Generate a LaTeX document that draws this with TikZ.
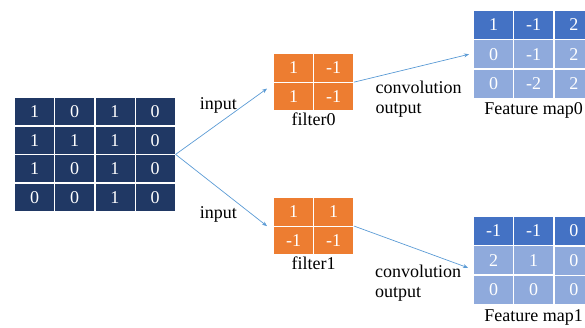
\documentclass[tikz,border=0pt]{standalone}
\usepackage{fontspec}
\setmainfont{Liberation Serif}
\usetikzlibrary{positioning,matrix,arrows.meta}
\definecolor{navy}{RGB}{32,56,100}
\definecolor{filterorange}{RGB}{237,125,49}
\definecolor{mapdark}{RGB}{68,114,196}
\definecolor{maplight}{RGB}{143,170,220}
\definecolor{arrowblue}{RGB}{91,155,213}

\begin{document}
\begin{tikzpicture}[x=1pt, y=-1pt, font=\fontsize{18}{20}\selectfont,
		grid/.style={matrix of nodes, inner sep=0pt, anchor=north west,
		column sep=-\pgflinewidth, row sep=-\pgflinewidth, nodes in empty cells,
		nodes={draw=white, line width=0.6pt, text=white, minimum width=40pt, inner sep=0pt}},
		inputgrid/.style={grid, nodes={fill=navy, minimum height=28.25pt}},
		filtergrid/.style={grid, nodes={fill=filterorange, minimum height=28.5pt}},
		mapgrid/.style={grid, nodes={fill=maplight, minimum height=29pt}},
		link/.style={-{Stealth[length=5pt,width=4pt]}, draw=arrowblue, line width=0.7pt},
		caption/.style={inner sep=1pt}]
		\useasboundingbox (0,0) rectangle (585,327);
		\clip (0,0) rectangle (585,327);
		\matrix[inputgrid] (in) at (14,97) {
				1& 0& 1& 0\\
				1& 1& 1& 0\\
				1& 0& 1& 0\\
				0& 0& 1& 0\\};
		\matrix[filtergrid] (f0) at (273,53) {
				1& -1\\
				1& -1\\};
		\matrix[filtergrid] (f1) at (273,197) {
				1& 1\\
				-1& -1\\};
		\node[caption, below=0pt of f0] (f0name) {filter0};
		\node[caption, below=0pt of f1] (f1name) {filter1};
		\tikzset{row 1/.style={nodes={fill=mapdark}}}
		\matrix[mapgrid] (m0) at (473,10) {
				1& -1& 2\\
				0& -1& 2\\
				0& -2& 2\\};
		\matrix[mapgrid] (m1) at (473,216) {
				-1& -1& 0\\
				2& 1& 0\\
				0& 0& 0\\};
		\node[caption, below=3pt of m0] (m0name) {Feature map0};
		\node[caption, below=4pt of m1] (m1name) {Feature map1};
		\draw[link] (in.east) -- ([shift={(-6,6.5)}]f0.west) node [midway, above=4pt, xshift=-3pt] {input};
		\draw[link] (in.east) -- ([shift={(-6,0)}]f1.west) node [midway, below=13pt, xshift=-3pt] {input};
		\draw[link] (f0.east) -- ([shift={(-4,0)}]m0.west) node [midway, below=9.5pt, xshift=7pt, align=left]
			{convolution\\output};
		\draw[link] (f1.east) -- ([shift={(-5,7.5)}]m1.west) node [midway, below=14pt, xshift=7pt, align=left]
			{convolution\\output};
	\end{tikzpicture}
\end{document}
